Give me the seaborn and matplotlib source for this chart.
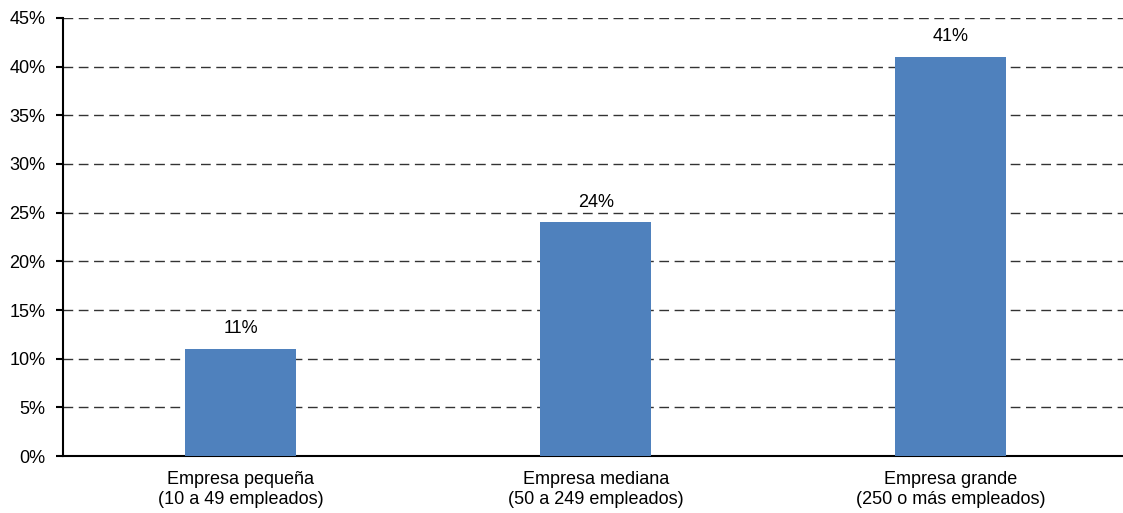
import numpy as np
import matplotlib
matplotlib.use("Agg")
import matplotlib.pyplot as plt
import seaborn as sns
import pandas as pd
from matplotlib.ticker import FixedLocator

categorias = ["Empresa pequeña\n(10 a 49 empleados)",
              "Empresa mediana\n(50 a 249 empleados)",
              "Empresa grande\n(250 o más empleados)"]
valores = [11, 24, 41]
etiquetas = ["11%", "24%", "41%"]
yticks = [0, 5, 10, 15, 20, 25, 30, 35, 40, 45]

sns.set_style("white")
plt.rcParams['font.family'] = ['Liberation Sans', 'DejaVu Sans']
plt.rcParams['text.color'] = 'black'
plt.rcParams['xtick.color'] = 'black'
plt.rcParams['ytick.color'] = 'black'

df = pd.DataFrame({"categoria": categorias, "valor": valores})

fig = plt.figure(figsize=(11.23, 5.13), dpi=100)
ax = fig.add_axes([0.0565, 0.111, 0.948, 0.854])

sns.barplot(data=df, x="categoria", y="valor", color="#4f81bd",
            width=0.313, saturation=1, linewidth=0, ax=ax, zorder=3)

for i, (v, t) in enumerate(zip(valores, etiquetas)):
    ax.text(i, v + 1.2, t, ha="center", va="bottom", fontsize=13)

ax.set_xlim(-0.5, 2.5)
ax.set_ylim(0, 45)
ax.set_yticks(yticks)
ax.set_yticklabels([f"{y}%" for y in yticks], fontsize=13)
ax.yaxis.grid(True, linestyle=(0, (7, 4)), color="#333333", linewidth=1)
ax.set_axisbelow(True)

ax.tick_params(axis="x", which="major", length=0, labelsize=13, pad=11)
ax.xaxis.set_minor_locator(FixedLocator([0.5, 1.5]))
ax.tick_params(axis="x", which="minor", length=5, width=1.5, direction="out", color="black")
ax.tick_params(axis="y", length=5, width=1.5, direction="out", color="black", left=True, pad=8)

for s in ["top", "right"]:
    ax.spines[s].set_visible(False)
for s in ["left", "bottom"]:
    ax.spines[s].set_color("black")
    ax.spines[s].set_linewidth(1.5)

ax.set_xlabel("")
ax.set_ylabel("")

fig.savefig("out.png", dpi=100)
